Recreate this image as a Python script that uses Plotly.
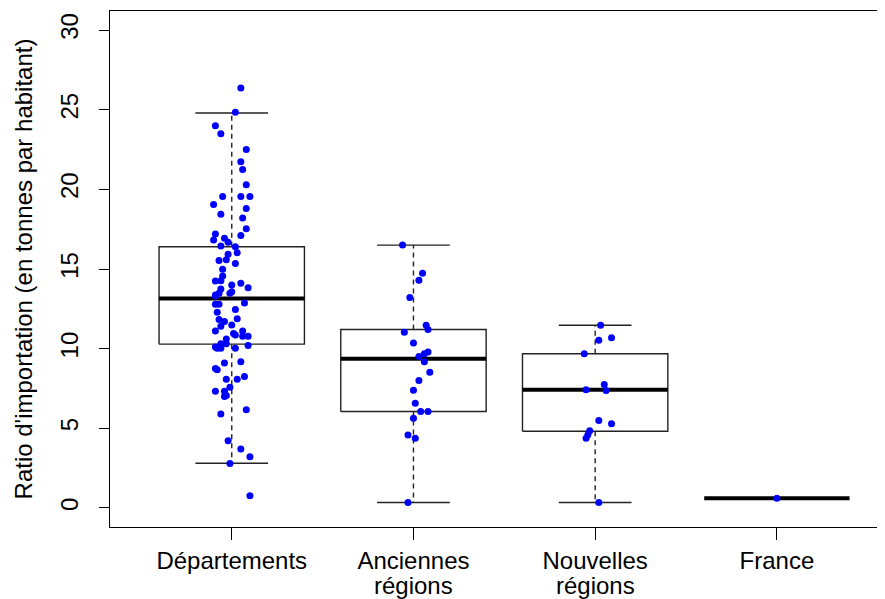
import plotly.graph_objects as go

# categories and tick labels
categories = ["Départements", "Anciennes régions", "Nouvelles régions", "France"]
tick_line1 = ["Départements", "Anciennes", "Nouvelles", "France"]
tick_line2 = ["", "régions", "régions", ""]

# box statistics (lower whisker, Q1, median, Q3, upper whisker)
whisk_lo = [2.8, 0.34, 0.34, 0.61]
q1 = [10.28, 6.05, 4.81, 0.61]
med = [13.15, 9.37, 7.42, 0.61]
q3 = [16.4, 11.2, 9.68, 0.61]
whisk_hi = [24.8, 16.5, 11.47, 0.61]

# jittered points: value and horizontal jitter (in category units)
dep_vals = [26.36, 24.85, 24.0, 23.5, 22.5, 21.74, 21.24, 20.29, 19.55, 19.55, 19.55, 19.05,
            18.8, 18.44, 18.21, 17.52, 17.1, 17.2, 16.82, 16.93, 16.68, 16.45, 16.4, 16.02,
            15.92, 15.54, 15.58, 15.35, 14.98, 14.56, 14.24, 14.26, 14.1, 13.99, 13.82, 13.74,
            13.57, 13.36, 13.47, 13.47, 13.3, 12.87, 12.79, 12.79, 12.46, 12.29, 11.87, 11.83,
            11.7, 11.4, 11.49, 11.11, 11.11, 10.95, 10.86, 10.78, 10.78, 10.61, 10.31, 10.31,
            10.1, 10.02, 10.02, 10.02, 10.19, 9.09, 9.18, 8.76, 8.67, 8.08, 8.08, 8.25,
            7.58, 7.33, 7.33, 7.06, 6.99, 6.16, 5.9, 4.22, 3.7, 3.21, 2.79, 0.76]
dep_jit = [0.05, 0.02, -0.09, -0.06, 0.08, 0.05, 0.06, 0.08, -0.05, 0.05, 0.10, -0.10,
           0.08, -0.06, 0.06, 0.08, 0.05, -0.09, -0.10, -0.04, -0.02, -0.06, 0.02, 0.03,
           -0.02, -0.07, -0.03, 0.02, -0.05, -0.05, -0.09, -0.06, 0.05, 0.0, 0.09, -0.06,
           0.0, -0.09, -0.07, -0.01, -0.09, 0.07, -0.09, -0.07, 0.02, -0.08, 0.03, -0.07,
           -0.04, -0.06, 0.0, -0.09, 0.06, 0.01, 0.02, 0.06, 0.09, -0.03, -0.06, -0.03,
           -0.09, -0.08, -0.06, 0.02, 0.09, -0.04, 0.05, -0.09, -0.08, -0.03, 0.03, 0.07,
           -0.01, -0.09, -0.04, -0.03, -0.04, 0.08, -0.06, -0.02, 0.05, 0.10, -0.01, 0.10]

anc_vals = [16.51, 14.73, 14.3, 13.21, 11.47, 11.2, 11.03, 10.36, 9.79, 9.68, 9.51, 9.17,
            8.51, 8.0, 7.39, 6.57, 6.05, 6.05, 5.63, 4.58, 4.37, 0.34]
anc_jit = [-0.06, 0.05, 0.03, -0.02, 0.07, 0.08, -0.05, 0.0, 0.08, 0.06, 0.03, 0.06,
           0.09, 0.03, 0.0, 0.01, 0.04, 0.08, 0.0, -0.03, 0.01, -0.03]

nouv_vals = [11.47, 10.69, 10.52, 9.68, 7.75, 7.37, 7.42, 5.48, 5.29, 4.85, 4.6, 4.37, 0.34]
nouv_jit = [0.03, 0.09, 0.02, -0.06, 0.05, 0.06, -0.05, 0.02, 0.09, -0.03, -0.04, -0.05, 0.02]

fr_vals = [0.61]
fr_jit = [0.0]

group_vals = [dep_vals, anc_vals, nouv_vals, fr_vals]
group_jit = [dep_jit, anc_jit, nouv_jit, fr_jit]

half = 0.4   # boxwex 0.8
staple = 0.2

fig = go.Figure()

# boxes (skip the degenerate France box)
bx, by = [], []
for i in range(4):
    c = i + 1
    if q3[i] > q1[i]:
        bx += [c - half, c + half, c + half, c - half, c - half, None]
        by += [q1[i], q1[i], q3[i], q3[i], q1[i], None]
fig.add_trace(go.Scatter(x=bx, y=by, mode="lines", line=dict(color="#222222", width=1.4),
                         hoverinfo="skip"))

# whiskers (dashed)
wx, wy = [], []
for i in range(4):
    c = i + 1
    if whisk_hi[i] > q3[i]:
        wx += [c, c, None]
        wy += [q3[i], whisk_hi[i], None]
    if q1[i] > whisk_lo[i]:
        wx += [c, c, None]
        wy += [q1[i], whisk_lo[i], None]
fig.add_trace(go.Scatter(x=wx, y=wy, mode="lines",
                         line=dict(color="#222222", width=1.4, dash="5px,4px"), hoverinfo="skip"))

# staples
sx, sy = [], []
for i in range(4):
    c = i + 1
    if whisk_hi[i] > q3[i]:
        sx += [c - staple, c + staple, None]
        sy += [whisk_hi[i], whisk_hi[i], None]
    if q1[i] > whisk_lo[i]:
        sx += [c - staple, c + staple, None]
        sy += [whisk_lo[i], whisk_lo[i], None]
fig.add_trace(go.Scatter(x=sx, y=sy, mode="lines", line=dict(color="#222222", width=1.4),
                         hoverinfo="skip"))

# medians
mx, my = [], []
for i in range(4):
    c = i + 1
    mx += [c - half, c + half, None]
    my += [med[i], med[i], None]
fig.add_trace(go.Scatter(x=mx, y=my, mode="lines", line=dict(color="black", width=4),
                         hoverinfo="skip"))

# jittered points
for i in range(4):
    fig.add_trace(go.Scatter(
        x=[i + 1 + j for j in group_jit[i]], y=group_vals[i], mode="markers",
        marker=dict(color="#0000ff", size=7, line=dict(width=0)), name=categories[i]))

# second line of the category labels (tighter line spacing than plotly's <br>)
for i in range(4):
    if tick_line2[i]:
        fig.add_annotation(x=i + 1, xref="x", y=0, yref="paper", text=tick_line2[i],
                           showarrow=False, yanchor="middle", yshift=-58,
                           font=dict(size=24, color="black"))

# page body has an 8px margin, so the figure is sized/offset to compensate
fig.update_layout(
    width=877, height=591,
    margin=dict(l=102, r=0, t=3, b=72, autoexpand=False),
    plot_bgcolor="white", paper_bgcolor="white",
    showlegend=False,
    font=dict(family="Liberation Sans, Arial", size=24, color="black"),
)
fig.update_xaxes(
    range=[0.33, 4.595], showgrid=False, zeroline=False, automargin=False,
    showline=True, mirror=True, linecolor="black", linewidth=1,
    tickmode="array", tickvals=[1, 2, 3, 4], ticktext=tick_line1,
    ticks="outside", ticklen=12, tickcolor="black", tickfont=dict(size=24),
)
fig.update_yaxes(
    range=[-1.2, 31.2], showgrid=False, zeroline=False, automargin=False,
    showline=True, linecolor="black", linewidth=1,
    tickmode="array", tickvals=[0, 5, 10, 15, 20, 25, 30],
    ticks="outside", ticklen=10, tickcolor="black", tickangle=-90, tickfont=dict(size=24),
    ticklabelstandoff=11,
    title=dict(text="Ratio d'importation (en tonnes par habitant)", font=dict(size=24), standoff=17),
)

fig.write_html("out.html")
